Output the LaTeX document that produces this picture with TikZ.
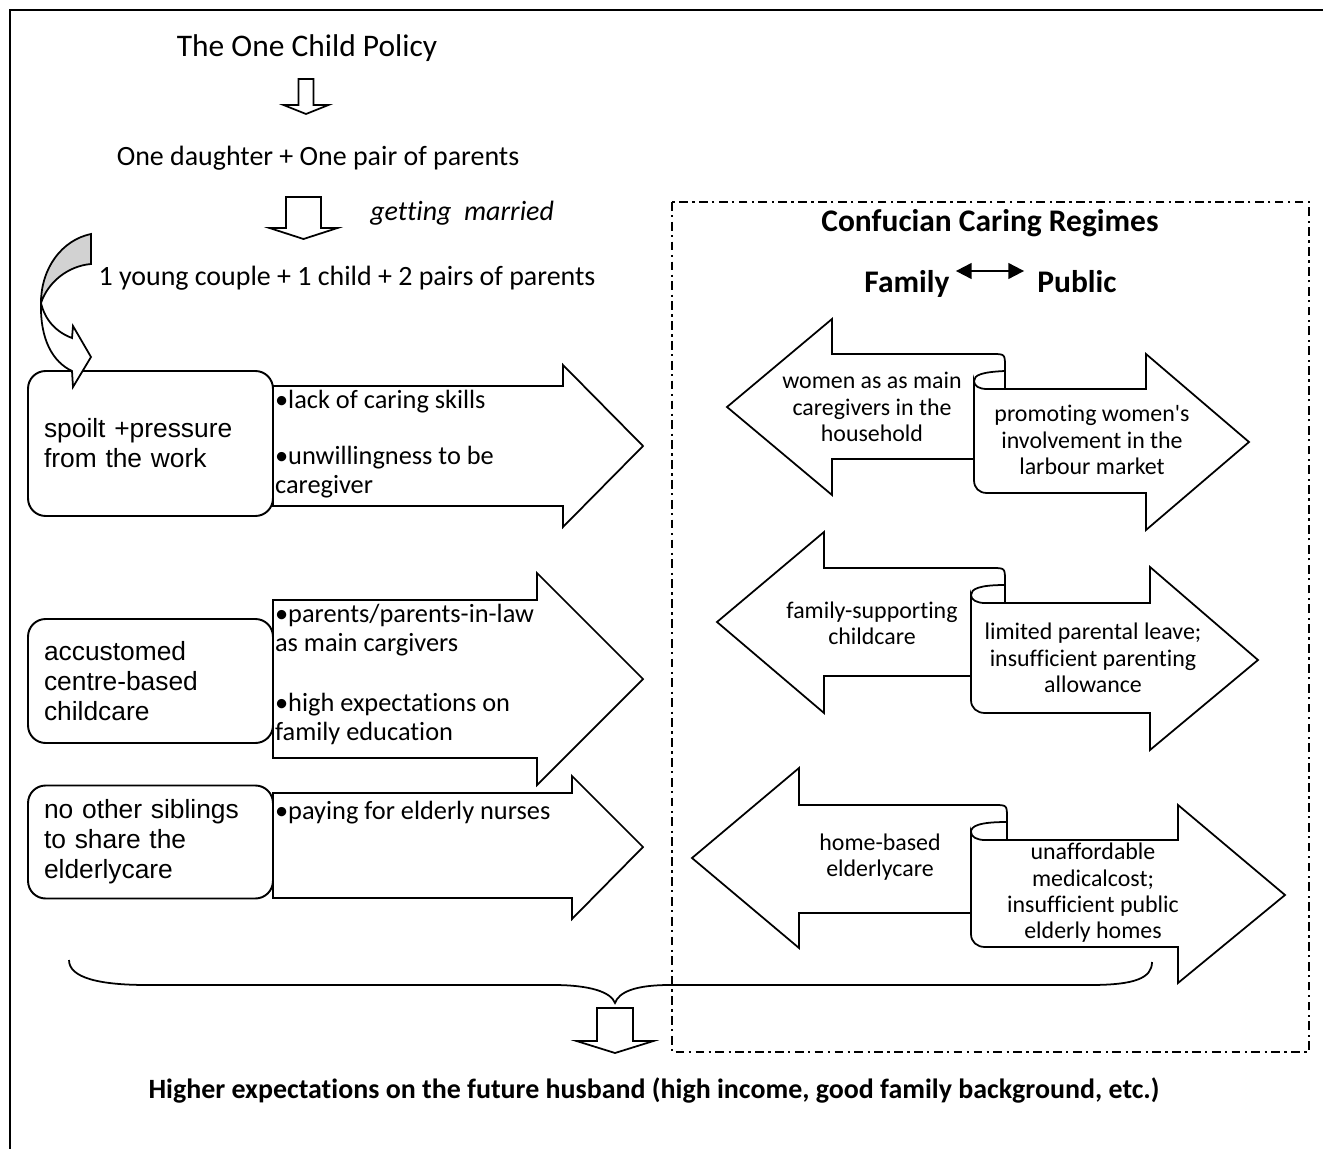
\documentclass[tikz,border=0pt]{standalone}
\usepackage{fontspec}
\setmainfont{Carlito}[Ligatures={NoCommon,TeXOff}]
\newfontfamily\arialfont{Liberation Sans}
\usetikzlibrary{arrows.meta}

\tikzset{
  flowtext/.style={inner sep=0pt, font=\fontsize{15.9}{19}\selectfont},
  titletext/.style={inner sep=0pt, font=\fontsize{17.9}{21}\selectfont},
  headtext/.style={inner sep=0pt, font=\fontsize{17.9}{21}\selectfont\bfseries},
  causebox/.style={draw, fill=white, line width=1.1pt, rounded corners=10pt,
    minimum width=4.9cm, inner xsep=0.32cm, text width=4.26cm, align=left,
    font=\arialfont\fontsize{15}{17}\selectfont},
  reasontext/.style={anchor=west, inner sep=1pt, align=left, font=\fontsize{15}{16.4}\selectfont},
  blockarrow/.style={draw, fill=white, line width=1pt, line join=miter},
  ribbontext/.style={align=center, inner sep=0pt, font=\fontsize{13.6}{15}\selectfont},
  regimebox/.style={draw, line width=1pt, dash pattern=on 5pt off 2.5pt on 1.3pt off 2.5pt},
  famarrow/.style={line width=1.1pt, {Triangle[length=9pt,width=9pt]}-{Triangle[length=9pt,width=9pt]}}
}

\begin{document}
\begin{tikzpicture}[x=0.02cm,y=-0.02cm]
\useasboundingbox (0,0) rectangle (1323,1149);
\draw[line width=1.3pt] (10,1149) -- (10,10) -- (1323,10);

% the flow at the top
\node[titletext] (policy) at (307,48) {The One Child Policy};
\node[flowtext] (daughter) at (318,158) {One daughter + One pair of parents};
\node[flowtext, font=\fontsize{15.9}{19}\selectfont\itshape, anchor=west] (married) at (370,213) {getting~ married};
\node[flowtext] (couple) at (347,278) {1 young couple + 1 child + 2 pairs of parents};

\draw[blockarrow] (298.5,79) -- (313.5,79) -- (313.5,105) -- (328.5,105) -- (306,114) -- (283.5,105) -- (298.5,105) -- cycle;
\draw[blockarrow] (286,197) -- (321,197) -- (321,228) -- (337.5,228) -- (303.5,239) -- (269.5,228) -- (286,228) -- cycle;

% left arrows
\draw[blockarrow] (273,386) -- (563,386) -- (563,365) -- (643,446) -- (563,527) -- (563,506) -- (273,506) -- cycle;
\draw[blockarrow] (273,600) -- (537,600) -- (537,573) -- (643,679) -- (537,785) -- (537,758) -- (273,758) -- cycle;
\draw[blockarrow] (273,793) -- (572,793) -- (572,776) -- (643,847) -- (572,919) -- (572,898) -- (273,898) -- cycle;

\node[causebox, minimum height=2.9cm] (spoilt) at (150.5,443.5) {spoilt +pressure\\from the work};
\node[causebox, minimum height=2.48cm] (centre) at (150.5,681) {accustomed\\centre-based\\childcare};
\node[causebox, minimum height=2.26cm] (siblings) at (150.5,842) {no other siblings\\to share the\\elderlycare};

\node[reasontext] (skills) at (273,402) {•lack of caring skills};
\node[reasontext] (unwilling) at (273,472.5) {•unwillingness to be\\caregiver};
\node[reasontext] (inlaw) at (273,630) {•parents/parents-in-law\\as main cargivers};
\node[reasontext] (education) at (273,719) {•high expectations on\\family education};
\node[reasontext] (nurses) at (273,813) {•paying for elderly nurses};

% curved arrow
\draw[blockarrow, fill=gray!35] (91,234) .. controls (62,240) and (41,268) .. (41,303) .. controls (48,282) and (68,266) .. (91,264) -- cycle;
\draw[blockarrow] (41,303) .. controls (40,340) and (53,362) .. (72,371) -- (73,387) -- (91,357) -- (73,326) -- (72,338) .. controls (56,332) and (45,320) .. (41,303) -- cycle;

% caring regimes
\draw[regimebox] (672,202) rectangle (1309,1052);
\node[headtext] (regimes) at (990,223) {Confucian Caring Regimes};
\node[headtext, anchor=base] (family) at (907,293) {Family};
\node[headtext, anchor=base] (public) at (1077,293) {Public};
\draw[famarrow] ([shift={(6,-22)}]family.base east) -- ([shift={(-13,-22)}]public.base west);

\draw[blockarrow] (1005,459) -- (832,459) -- (832,495) -- (727,407) -- (832,319) -- (832,354) -- (992,354) .. controls (1005,354) and (1005,354) .. (1005,367) -- cycle;
\draw[blockarrow] (974,381) .. controls (974,386) and (979,389) .. (987,389) -- (1146,389) -- (1146,354) -- (1249,442) -- (1146,530) -- (1146,493) -- (987,493) .. controls (979,493) and (974,488) .. (974,480) -- cycle;
\draw[blockarrow, fill=none] (974,381) .. controls (974,375) and (982,372) .. (1005,371);

\draw[blockarrow] (1005,676) -- (824,676) -- (824,713) -- (717,622) -- (824,532) -- (824,568) -- (992,568) .. controls (1005,568) and (1005,568) .. (1005,581) -- cycle;
\draw[blockarrow] (971,595) .. controls (971,600) and (977,603) .. (985,603) -- (1150,603) -- (1150,567) -- (1258,660) -- (1150,750) -- (1150,713) -- (985,713) .. controls (977,713) and (971,708) .. (971,700) -- cycle;
\draw[blockarrow, fill=none] (971,595) .. controls (971,589) and (979,585) .. (1005,585);

\draw[blockarrow] (1007,913) -- (799,913) -- (799,948) -- (692,858) -- (799,768) -- (799,805) -- (994,805) .. controls (1007,805) and (1007,805) .. (1007,818) -- cycle;
\draw[blockarrow] (971,832) .. controls (971,837) and (977,840) .. (985,840) -- (1178,840) -- (1178,805) -- (1285,895) -- (1178,983) -- (1178,947) -- (985,947) .. controls (977,947) and (971,942) .. (971,934) -- cycle;
\draw[blockarrow, fill=none] (971,832) .. controls (971,826) and (979,822) .. (1007,822);

\node[ribbontext] (household) at (872,407) {women as as main\\caregivers in the\\household};
\node[ribbontext] (labour) at (1092,440) {promoting women's\\involvement in the\\larbour market};
\node[ribbontext] (childsupport) at (872,623) {family-supporting\\childcare};
\node[ribbontext] (leave) at (1093,658) {limited parental leave;\\insufficient parenting\\allowance};
\node[ribbontext] (homebased) at (880,857) {home-based\\elderlycare};
\node[ribbontext] (medical) at (1093,893) {unaffordable\\medicalcost;\\insufficient public\\elderly homes};

% brace and result
\coordinate (braceL) at (69,960);
\coordinate (cusp) at (615,1003);
\coordinate (braceR) at (1152,962);
\draw[line width=1pt] (braceL) .. controls (69,978) and (100,985) .. (147,985) -- (553,985) .. controls (590,985) and (611,992) .. (cusp) .. controls (619,992) and (635,985) .. (670,985) -- (1090,985) .. controls (1135,985) and (1152,978) .. (braceR);
\draw[blockarrow] (597,1008) -- (633,1008) -- (633,1041) -- (653.5,1041) -- (615,1053) -- (576.5,1041) -- (597,1041) -- cycle;
\node[flowtext, font=\fontsize{15.9}{19}\selectfont\bfseries] (expect) at (654,1090) {Higher expectations on the future husband (high income, good family background, etc.)};
\end{tikzpicture}
\end{document}
